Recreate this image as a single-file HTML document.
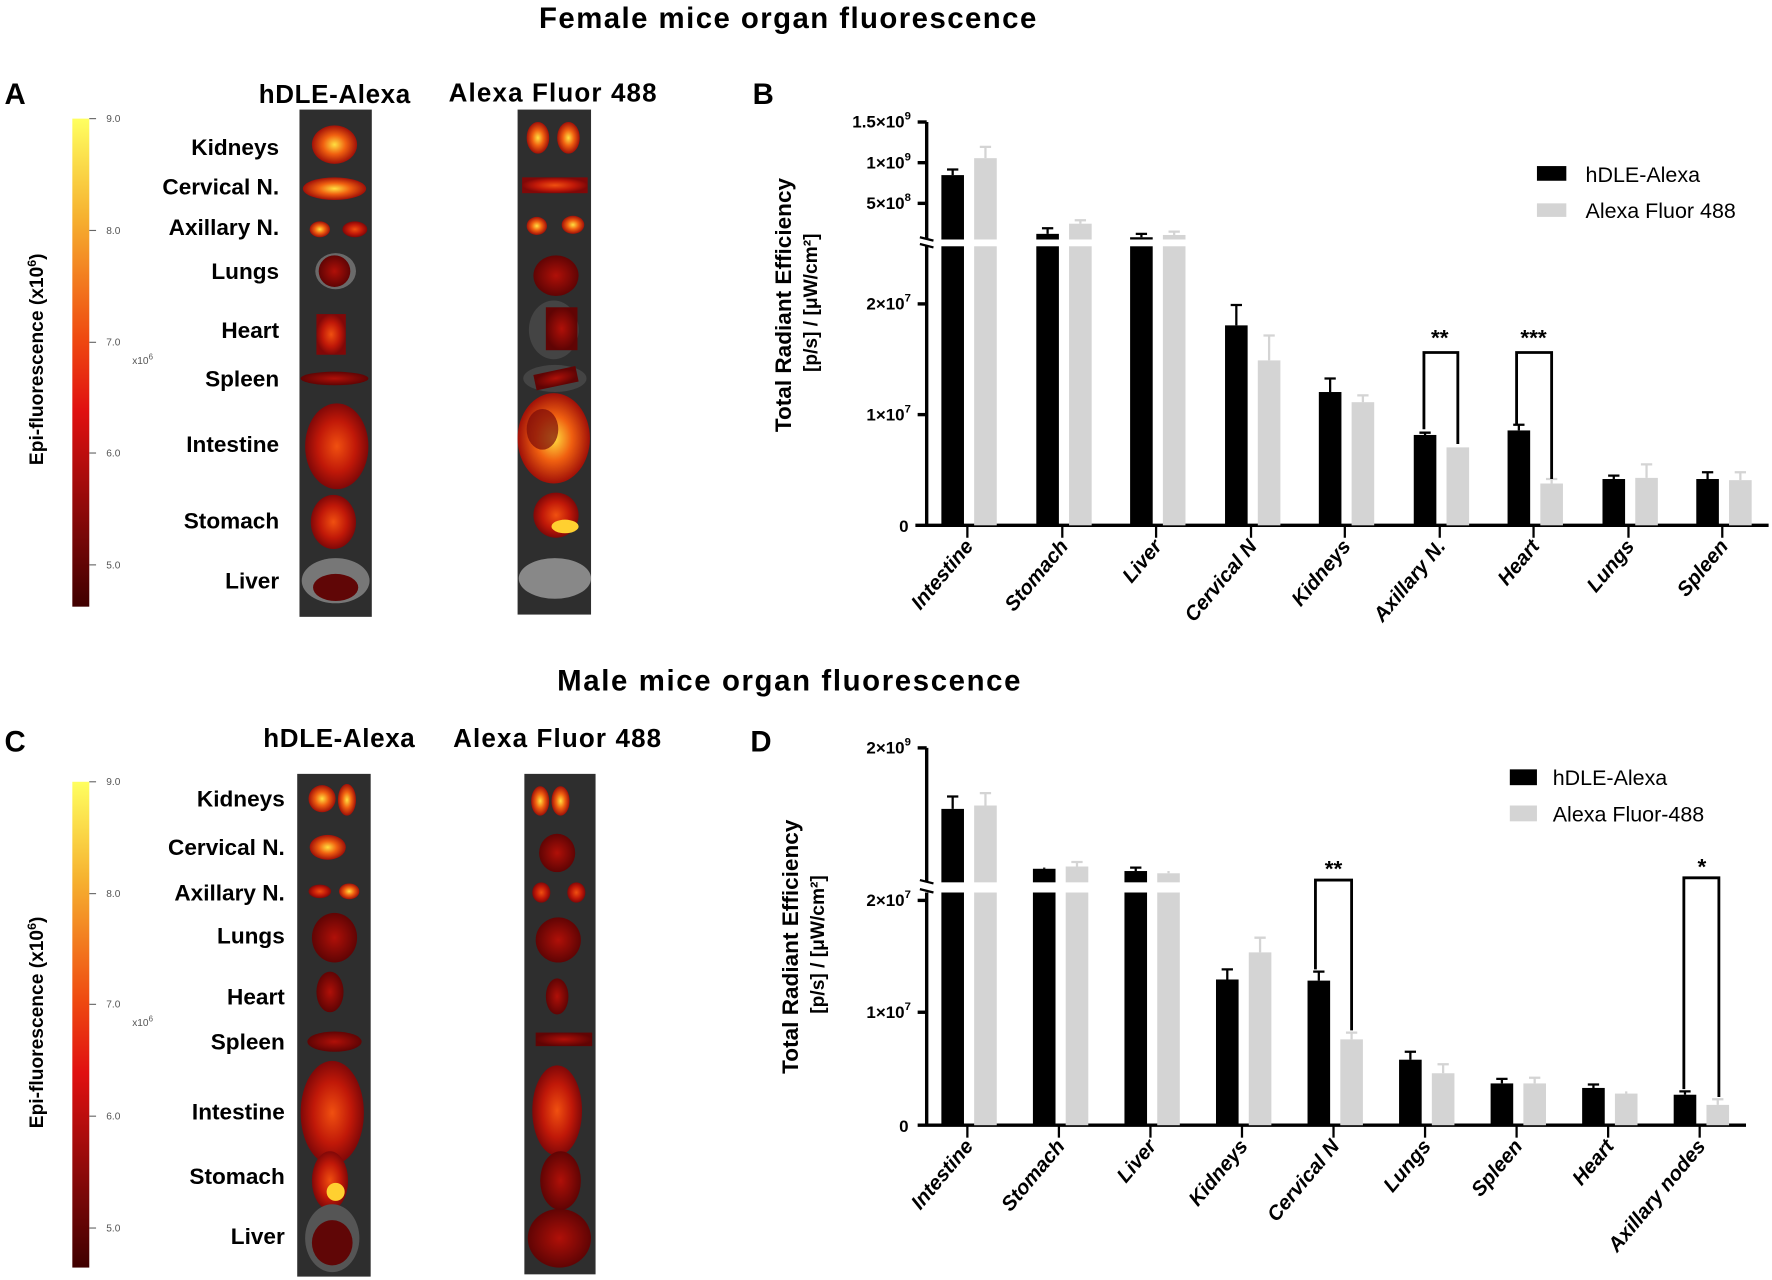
<!DOCTYPE html>
<html><head><meta charset="utf-8"><style>
html,body{margin:0;padding:0;background:#fff}
svg{display:block}
text{font-family:"Liberation Sans",sans-serif}
.t{font-weight:bold;font-size:26px}
.h{font-weight:bold;font-size:23px}
.o{font-weight:bold;font-size:20px;text-anchor:end}
.k{font-size:15px;font-weight:bold}
.c{font-size:18px;font-weight:bold;font-style:italic;text-anchor:end}
.cb{font-size:9px;fill:#555}
.lg{font-size:19px}
</style></head><body>
<svg width="1772" height="1280" viewBox="0 0 1568 1133" preserveAspectRatio="none" xmlns="http://www.w3.org/2000/svg">
<defs>
<linearGradient id="cbar" x1="0" y1="0" x2="0" y2="1">
<stop offset="0" stop-color="#ffff60"/><stop offset="0.2" stop-color="#f6b230"/><stop offset="0.45" stop-color="#ef4a10"/><stop offset="0.6" stop-color="#e01010"/><stop offset="0.85" stop-color="#7a0808"/><stop offset="1" stop-color="#400000"/>
</linearGradient>
<radialGradient id="hot"><stop offset="0" stop-color="#ffe040"/><stop offset="0.5" stop-color="#f06010"/><stop offset="1" stop-color="#a01008"/></radialGradient>
<radialGradient id="mid"><stop offset="0" stop-color="#f05010"/><stop offset="0.6" stop-color="#c01808"/><stop offset="1" stop-color="#800808"/></radialGradient>
<radialGradient id="low"><stop offset="0" stop-color="#b01008"/><stop offset="1" stop-color="#600404"/></radialGradient>
</defs>

<text class="t" x="697" y="25" text-anchor="middle" textLength="440">Female mice organ fluorescence</text>
<text class="t" x="698" y="611" text-anchor="middle" textLength="410">Male mice organ fluorescence</text>
<text class="t" x="4" y="92">A</text><text class="t" x="666" y="92">B</text>
<text class="t" x="4" y="665">C</text><text class="t" x="664" y="665">D</text>
<text class="h" x="296" y="91" text-anchor="middle" textLength="134">hDLE-Alexa</text>
<text class="h" x="489" y="90" text-anchor="middle" textLength="184">Alexa Fluor 488</text>
<text class="h" x="300" y="661" text-anchor="middle" textLength="134">hDLE-Alexa</text>
<text class="h" x="493" y="661" text-anchor="middle" textLength="184">Alexa Fluor 488</text>

<rect x="64" y="105" width="15" height="432" fill="url(#cbar)"/>
<g stroke="#666" stroke-width="1">
<line x1="79" y1="105" x2="85" y2="105"/><line x1="79" y1="204" x2="85" y2="204"/><line x1="79" y1="303" x2="85" y2="303"/><line x1="79" y1="401" x2="85" y2="401"/><line x1="79" y1="500" x2="85" y2="500"/>
</g>
<text class="cb" x="94" y="108">9.0</text><text class="cb" x="94" y="207">8.0</text><text class="cb" x="94" y="306">7.0</text><text class="cb" x="94" y="404">6.0</text><text class="cb" x="94" y="503">5.0</text>
<text class="cb" x="117" y="322">x10<tspan dy="-4" font-size="7">6</tspan></text>
<text transform="translate(38,318) rotate(-90)" text-anchor="middle" font-weight="bold" font-size="17">Epi-fluorescence (x10<tspan dy="-6" font-size="11">6</tspan><tspan dy="6">)</tspan></text>

<rect x="64" y="692" width="15" height="430" fill="url(#cbar)"/>
<g stroke="#666" stroke-width="1">
<line x1="79" y1="692" x2="85" y2="692"/><line x1="79" y1="791" x2="85" y2="791"/><line x1="79" y1="889" x2="85" y2="889"/><line x1="79" y1="988" x2="85" y2="988"/><line x1="79" y1="1087" x2="85" y2="1087"/>
</g>
<text class="cb" x="94" y="695">9.0</text><text class="cb" x="94" y="794">8.0</text><text class="cb" x="94" y="892">7.0</text><text class="cb" x="94" y="991">6.0</text><text class="cb" x="94" y="1090">5.0</text>
<text class="cb" x="117" y="908">x10<tspan dy="-4" font-size="7">6</tspan></text>
<text transform="translate(38,905) rotate(-90)" text-anchor="middle" font-weight="bold" font-size="17">Epi-fluorescence (x10<tspan dy="-6" font-size="11">6</tspan><tspan dy="6">)</tspan></text>

<text class="o" x="247" y="137">Kidneys</text><text class="o" x="247" y="172">Cervical N.</text><text class="o" x="247" y="208">Axillary N.</text>
<text class="o" x="247" y="247">Lungs</text><text class="o" x="247" y="299">Heart</text><text class="o" x="247" y="342">Spleen</text>
<text class="o" x="247" y="400">Intestine</text><text class="o" x="247" y="468">Stomach</text><text class="o" x="247" y="521">Liver</text>
<text class="o" x="252" y="714">Kidneys</text><text class="o" x="252" y="757">Cervical N.</text><text class="o" x="252" y="797">Axillary N.</text>
<text class="o" x="252" y="835">Lungs</text><text class="o" x="252" y="889">Heart</text><text class="o" x="252" y="929">Spleen</text>
<text class="o" x="252" y="991">Intestine</text><text class="o" x="252" y="1048">Stomach</text><text class="o" x="252" y="1101">Liver</text>

<rect x="265" y="97" width="64" height="449" fill="#2e2e2e"/>
<rect x="458" y="97" width="65" height="447" fill="#2e2e2e"/>
<rect x="263" y="685" width="65" height="445" fill="#2e2e2e"/>
<rect x="464" y="685" width="63" height="443" fill="#2e2e2e"/>
<ellipse cx="296" cy="128" rx="20" ry="17" fill="url(#hot)"/>
<ellipse cx="296" cy="167" rx="28" ry="10" fill="url(#hot)"/>
<ellipse cx="283" cy="203" rx="9" ry="7" fill="url(#hot)"/><ellipse cx="314" cy="203" rx="11" ry="7" fill="url(#mid)"/>
<ellipse cx="297" cy="240" rx="18" ry="16" fill="#6a6a6a"/><ellipse cx="296" cy="240" rx="14" ry="14" fill="url(#low)"/>
<rect x="280" y="278" width="26" height="36" fill="url(#mid)"/>
<ellipse cx="296" cy="335" rx="30" ry="6" fill="url(#low)"/>
<ellipse cx="298" cy="395" rx="28" ry="38" fill="url(#mid)"/>
<ellipse cx="295" cy="462" rx="20" ry="24" fill="url(#mid)"/>
<ellipse cx="297" cy="514" rx="30" ry="20" fill="#777"/><ellipse cx="297" cy="520" rx="20" ry="12" fill="#600606"/>
<ellipse cx="476" cy="122" rx="10" ry="14" fill="url(#hot)"/><ellipse cx="503" cy="122" rx="10" ry="14" fill="url(#hot)"/>
<rect x="462" y="157" width="58" height="14" fill="url(#mid)"/>
<ellipse cx="475" cy="200" rx="9" ry="8" fill="url(#hot)"/><ellipse cx="507" cy="199" rx="10" ry="8" fill="url(#hot)"/>
<ellipse cx="492" cy="244" rx="20" ry="18" fill="url(#low)"/>
<ellipse cx="490" cy="292" rx="22" ry="26" fill="#444"/><rect x="483" y="272" width="28" height="38" fill="url(#low)"/>
<ellipse cx="491" cy="335" rx="28" ry="12" fill="#444"/><rect x="473" y="328" width="38" height="14" fill="url(#low)" transform="rotate(-12 491 335)"/>
<ellipse cx="490" cy="388" rx="32" ry="40" fill="url(#hot)"/><ellipse cx="480" cy="380" rx="14" ry="18" fill="#7a0a08" opacity="0.7"/>
<ellipse cx="492" cy="456" rx="20" ry="20" fill="url(#mid)"/><ellipse cx="500" cy="466" rx="12" ry="6" fill="#ffd030"/>
<ellipse cx="491" cy="512" rx="32" ry="18" fill="#888"/>
<ellipse cx="285" cy="707" rx="12" ry="12" fill="url(#hot)"/><ellipse cx="307" cy="708" rx="8" ry="14" fill="url(#hot)"/>
<ellipse cx="290" cy="750" rx="16" ry="11" fill="url(#hot)"/>
<ellipse cx="283" cy="789" rx="10" ry="6" fill="url(#mid)"/><ellipse cx="309" cy="789" rx="9" ry="7" fill="url(#hot)"/>
<ellipse cx="296" cy="830" rx="20" ry="22" fill="url(#low)"/>
<ellipse cx="292" cy="878" rx="12" ry="18" fill="url(#low)"/>
<ellipse cx="296" cy="922" rx="24" ry="9" fill="url(#low)"/>
<ellipse cx="294" cy="985" rx="28" ry="46" fill="url(#mid)"/>
<ellipse cx="292" cy="1045" rx="16" ry="26" fill="url(#mid)"/><ellipse cx="297" cy="1055" rx="8" ry="8" fill="#ffd030"/>
<ellipse cx="294" cy="1096" rx="24" ry="30" fill="#555"/><ellipse cx="294" cy="1100" rx="18" ry="20" fill="#600606"/>
<ellipse cx="478" cy="709" rx="8" ry="13" fill="url(#hot)"/><ellipse cx="496" cy="709" rx="8" ry="13" fill="url(#hot)"/>
<ellipse cx="493" cy="755" rx="16" ry="17" fill="url(#low)"/>
<ellipse cx="479" cy="790" rx="8" ry="9" fill="url(#mid)"/><ellipse cx="510" cy="790" rx="8" ry="9" fill="url(#mid)"/>
<ellipse cx="494" cy="832" rx="20" ry="20" fill="url(#low)"/>
<ellipse cx="493" cy="882" rx="10" ry="16" fill="url(#low)"/>
<rect x="474" y="914" width="50" height="12" fill="url(#low)"/>
<ellipse cx="493" cy="983" rx="22" ry="40" fill="url(#mid)"/>
<ellipse cx="496" cy="1045" rx="18" ry="26" fill="url(#low)"/>
<ellipse cx="495" cy="1096" rx="28" ry="26" fill="url(#low)"/>

<g stroke="#000" stroke-width="3" fill="none">
<line x1="820" y1="108" x2="820" y2="466"/><line x1="810" y1="465" x2="1565" y2="465"/>
<line x1="812" y1="108" x2="820" y2="108"/><line x1="812" y1="144" x2="820" y2="144"/><line x1="812" y1="180" x2="820" y2="180"/>
<line x1="812" y1="269" x2="820" y2="269"/><line x1="812" y1="367" x2="820" y2="367"/>
</g>
<g stroke="#000" stroke-width="2">
<line x1="856" y1="465" x2="856" y2="476"/><line x1="940" y1="465" x2="940" y2="476"/><line x1="1023" y1="465" x2="1023" y2="476"/><line x1="1107" y1="465" x2="1107" y2="476"/><line x1="1190" y1="465" x2="1190" y2="476"/><line x1="1274" y1="465" x2="1274" y2="476"/><line x1="1357" y1="465" x2="1357" y2="476"/><line x1="1441" y1="465" x2="1441" y2="476"/><line x1="1524" y1="465" x2="1524" y2="476"/>
</g>
<g text-anchor="end">
<text class="k" x="806" y="113">1.5×10<tspan dy="-7" font-size="10">9</tspan></text>
<text class="k" x="806" y="149">1×10<tspan dy="-7" font-size="10">9</tspan></text>
<text class="k" x="806" y="185">5×10<tspan dy="-7" font-size="10">8</tspan></text>
<text class="k" x="806" y="274">2×10<tspan dy="-7" font-size="10">7</tspan></text>
<text class="k" x="806" y="372">1×10<tspan dy="-7" font-size="10">7</tspan></text>
<text class="k" x="804" y="471">0</text>
</g>
<g fill="#000">
<rect x="833" y="155" width="20" height="310"/><rect x="917" y="207" width="20" height="258"/><rect x="1000" y="210" width="20" height="255"/>
<rect x="1084" y="288" width="20" height="177"/><rect x="1167" y="347" width="20" height="118"/><rect x="1251" y="385" width="20" height="80"/>
<rect x="1334" y="381" width="20" height="84"/><rect x="1418" y="424" width="20" height="41"/><rect x="1501" y="424" width="20" height="41"/>
</g>
<g fill="#d4d4d4">
<rect x="862" y="140" width="20" height="325"/><rect x="946" y="198" width="20" height="267"/><rect x="1029" y="208" width="20" height="257"/>
<rect x="1113" y="319" width="20" height="146"/><rect x="1196" y="356" width="20" height="109"/><rect x="1280" y="396" width="20" height="69"/>
<rect x="1363" y="428" width="20" height="37"/><rect x="1447" y="423" width="20" height="42"/><rect x="1530" y="425" width="20" height="40"/>
</g>
<g stroke="#000" stroke-width="2">
<path d="M843 155V150M838 150H848M927 207V202M922 202H932M1010 210V207M1005 207H1015M1094 288V270M1089 270H1099M1177 347V335M1172 335H1182M1261 385V383M1256 383H1266M1344 381V376M1339 376H1349M1428 424V421M1423 421H1433M1511 424V418M1506 418H1516"/>
</g>
<g stroke="#d4d4d4" stroke-width="2">
<path d="M872 140V130M867 130H877M956 198V195M951 195H961M1039 208V205M1034 205H1044M1123 319V297M1118 297H1128M1206 356V350M1201 350H1211M1373 428V424M1368 424H1378M1457 423V411M1452 411H1462M1540 425V418M1535 418H1545"/>
</g>
<rect x="815" y="212" width="280" height="6" fill="#fff"/>
<path d="M814 210L826 213M814 216L826 219" stroke="#000" stroke-width="2"/>
<g stroke="#000" stroke-width="2.5" fill="none">
<path d="M1260 380V312H1290V393"/><path d="M1342 376V312H1373V424"/>
</g>
<text x="1274" y="306" text-anchor="middle" font-weight="bold" font-size="20">**</text>
<text x="1357" y="306" text-anchor="middle" font-weight="bold" font-size="20">***</text>
<rect x="1360" y="147" width="26" height="13" fill="#000"/><text class="lg" x="1403" y="161">hDLE-Alexa</text>
<rect x="1360" y="180" width="26" height="12" fill="#d4d4d4"/><text class="lg" x="1403" y="193">Alexa Fluor 488</text>
<text transform="translate(700,270) rotate(-90)" text-anchor="middle" font-weight="bold" font-size="20">Total Radiant Efficiency</text>
<text transform="translate(723,268) rotate(-90)" text-anchor="middle" font-weight="bold" font-size="17">[p/s] / [μW/cm²]</text>
<g>
<text class="c" transform="translate(862,484) rotate(-50)">Intestine</text>
<text class="c" transform="translate(946,484) rotate(-50)">Stomach</text>
<text class="c" transform="translate(1029,484) rotate(-50)">Liver</text>
<text class="c" transform="translate(1113,484) rotate(-50)">Cervical N</text>
<text class="c" transform="translate(1196,484) rotate(-50)">Kidneys</text>
<text class="c" transform="translate(1280,484) rotate(-50)">Axillary N.</text>
<text class="c" transform="translate(1363,484) rotate(-50)">Heart</text>
<text class="c" transform="translate(1447,484) rotate(-50)">Lungs</text>
<text class="c" transform="translate(1530,484) rotate(-50)">Spleen</text>
</g>

<g stroke="#000" stroke-width="3" fill="none">
<line x1="820" y1="662" x2="820" y2="997"/><line x1="812" y1="996" x2="1545" y2="996"/>
<line x1="812" y1="662" x2="820" y2="662"/><line x1="812" y1="797" x2="820" y2="797"/><line x1="812" y1="896" x2="820" y2="896"/>
</g>
<g stroke="#000" stroke-width="2">
<line x1="856" y1="996" x2="856" y2="1007"/><line x1="937" y1="996" x2="937" y2="1007"/><line x1="1018" y1="996" x2="1018" y2="1007"/><line x1="1099" y1="996" x2="1099" y2="1007"/><line x1="1180" y1="996" x2="1180" y2="1007"/><line x1="1261" y1="996" x2="1261" y2="1007"/><line x1="1342" y1="996" x2="1342" y2="1007"/><line x1="1423" y1="996" x2="1423" y2="1007"/><line x1="1504" y1="996" x2="1504" y2="1007"/>
</g>
<g text-anchor="end">
<text class="k" x="806" y="667">2×10<tspan dy="-7" font-size="10">9</tspan></text>
<text class="k" x="806" y="802">2×10<tspan dy="-7" font-size="10">7</tspan></text>
<text class="k" x="806" y="901">1×10<tspan dy="-7" font-size="10">7</tspan></text>
<text class="k" x="804" y="1002">0</text>
</g>
<g fill="#000">
<rect x="833" y="716" width="20" height="280"/><rect x="914" y="769" width="20" height="227"/><rect x="995" y="771" width="20" height="225"/>
<rect x="1076" y="867" width="20" height="129"/><rect x="1157" y="868" width="20" height="128"/><rect x="1238" y="938" width="20" height="58"/>
<rect x="1319" y="959" width="20" height="37"/><rect x="1400" y="963" width="20" height="33"/><rect x="1481" y="969" width="20" height="27"/>
</g>
<g fill="#d4d4d4">
<rect x="862" y="713" width="20" height="283"/><rect x="943" y="767" width="20" height="229"/><rect x="1024" y="773" width="20" height="223"/>
<rect x="1105" y="843" width="20" height="153"/><rect x="1186" y="920" width="20" height="76"/><rect x="1267" y="950" width="20" height="46"/>
<rect x="1348" y="959" width="20" height="37"/><rect x="1429" y="968" width="20" height="28"/><rect x="1510" y="978" width="20" height="18"/>
</g>
<g stroke="#000" stroke-width="2">
<path d="M843 716V705M838 705H848M924 769V768M1005 771V768M1000 768H1010M1086 867V858M1081 858H1091M1167 868V860M1162 860H1172M1248 938V931M1243 931H1253M1329 959V955M1324 955H1334M1410 963V960M1405 960H1415M1491 969V966M1486 966H1496"/>
</g>
<g stroke="#d4d4d4" stroke-width="2">
<path d="M872 713V702M867 702H877M953 767V763M948 763H958M1034 773V771M1115 843V830M1110 830H1120M1196 920V914M1191 914H1201M1277 950V942M1272 942H1282M1358 959V954M1353 954H1363M1439 968V966M1520 978V973M1515 973H1525"/>
</g>
<rect x="815" y="781" width="250" height="9" fill="#fff"/>
<path d="M814 779L826 782M814 787L826 790" stroke="#000" stroke-width="2"/>
<g stroke="#000" stroke-width="2.5" fill="none">
<path d="M1164 858V779H1196V912"/><path d="M1490 964V777H1521V971"/>
</g>
<text x="1180" y="776" text-anchor="middle" font-weight="bold" font-size="20">**</text>
<text x="1506" y="774" text-anchor="middle" font-weight="bold" font-size="20">*</text>
<rect x="1336" y="681" width="24" height="14" fill="#000"/><text class="lg" x="1374" y="695">hDLE-Alexa</text>
<rect x="1336" y="713" width="24" height="14" fill="#d4d4d4"/><text class="lg" x="1374" y="727">Alexa Fluor-488</text>
<text transform="translate(706,838) rotate(-90)" text-anchor="middle" font-weight="bold" font-size="20">Total Radiant Efficiency</text>
<text transform="translate(729,836) rotate(-90)" text-anchor="middle" font-weight="bold" font-size="17">[p/s] / [μW/cm²]</text>
<g>
<text class="c" transform="translate(862,1015) rotate(-50)">Intestine</text>
<text class="c" transform="translate(943,1015) rotate(-50)">Stomach</text>
<text class="c" transform="translate(1024,1015) rotate(-50)">Liver</text>
<text class="c" transform="translate(1105,1015) rotate(-50)">Kidneys</text>
<text class="c" transform="translate(1186,1015) rotate(-50)">Cervical N</text>
<text class="c" transform="translate(1267,1015) rotate(-50)">Lungs</text>
<text class="c" transform="translate(1348,1015) rotate(-50)">Spleen</text>
<text class="c" transform="translate(1429,1015) rotate(-50)">Heart</text>
<text class="c" transform="translate(1510,1015) rotate(-50)">Axillary nodes</text>
</g>
</svg>
</body></html>
